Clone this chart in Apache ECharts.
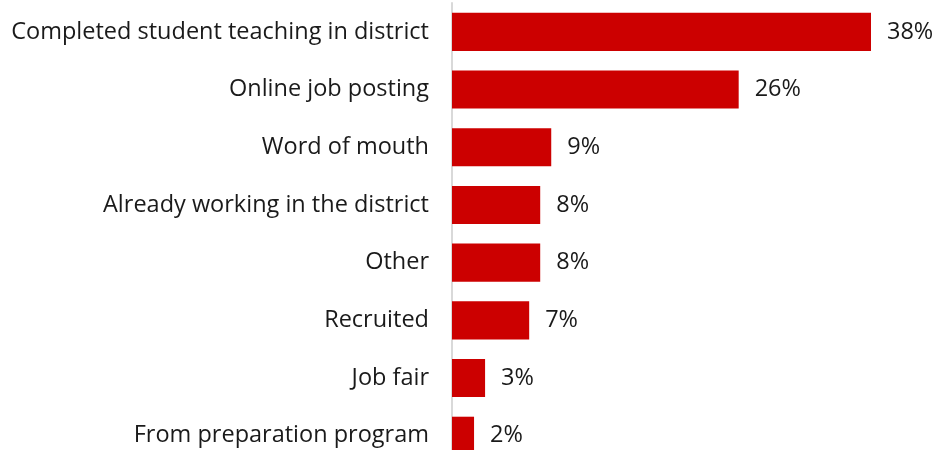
<!DOCTYPE html>
<html><head><meta charset="utf-8">
<script src="https://cdn.jsdelivr.net/npm/echarts@6/dist/echarts.min.js"></script>
<style>html,body{margin:0;padding:0;background:#fff}#c{width:936px;height:450px}</style>
</head><body><div id="c"></div>
<script>
const categories = ["Completed student teaching in district","Online job posting","Word of mouth","Already working in the district","Other","Recruited","Job fair","From preparation program"];
const values = [38,26,9,8,8,7,3,2];
const chart = echarts.init(document.getElementById('c'), null, {renderer:'canvas'});
chart.setOption({
  animation:false,
  grid:{left:452, top:3, width:419, height:461.6, outerBoundsMode:'none', containLabel:false},
  xAxis:{type:'value', min:0, max:38, show:false},
  yAxis:{type:'category', inverse:true, data:categories,
    axisLine:{show:true, lineStyle:{color:'#d9d9d9', width:2}},
    axisTick:{show:false},
    axisLabel:{color:'#1a1a1a', fontSize:23.5, fontFamily:'Open Sans', margin:23}},
  series:[{type:'bar', data:values, barCategoryGap:'34%', itemStyle:{color:'#cc0000'},
    label:{show:true, position:'right', distance:16, formatter:'{c}%', color:'#1a1a1a', fontSize:23.5, fontFamily:'Open Sans'}}]
});
</script></body></html>
